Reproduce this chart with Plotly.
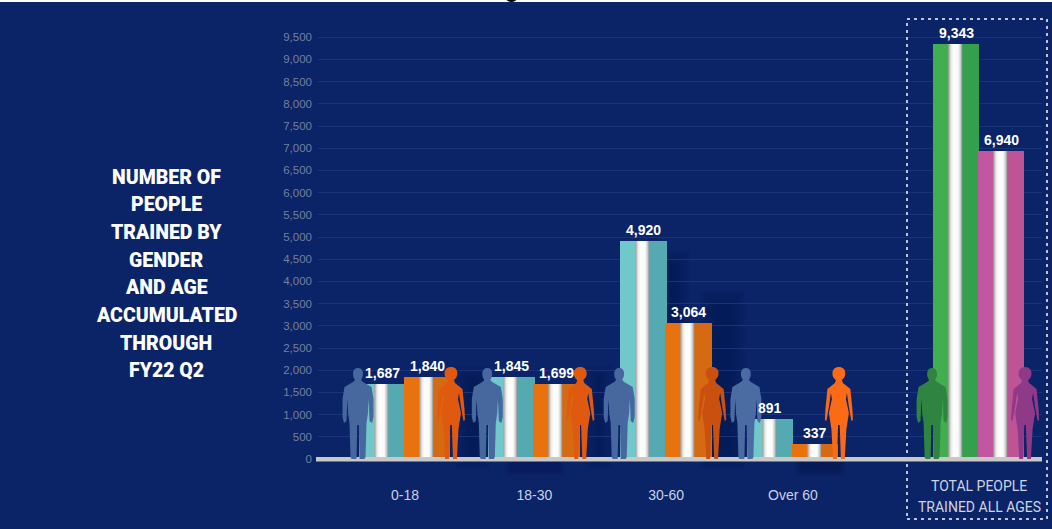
import plotly.graph_objects as go

# Training counts by age band
age_groups = ["0-18", "18-30", "30-60", "Over 60"]
men_trained = [1687, 1845, 4920, 891]
women_trained = [1840, 1699, 3064, 337]
total_men = [9343]
total_women = [6940]
total_label_lines = ["TOTAL PEOPLE", "TRAINED ALL AGES"]
y_ticks = list(range(0, 10000, 500))
side_title_lines = ["NUMBER OF", "PEOPLE", "TRAINED BY", "GENDER", "AND AGE", "ACCUMULATED", "THROUGH", "FY22 Q2"]

W, H = 1052, 529
LEFT, RIGHT, TOP, BOTTOM = 318, 1042, 26, 478
ZERO_PX, PX_PER_UNIT = 459, 0.0444
UNIT_PX = 129.3
CENTER_0_PX = 405
BAR_PX = 45

group_x = [0, 1, 2.02, 3]
total_x = [4.44]
BG = "#0b2367"


def px_x(p):
    return (p - CENTER_0_PX) / UNIT_PX


def pap_x(p):
    return (p - LEFT) / (RIGHT - LEFT)


def pap_y(p):
    return (BOTTOM - p) / (BOTTOM - TOP)


def mix(stops, f):
    for (a, ca), (b, cb) in zip(stops, stops[1:]):
        if f <= b:
            t = (f - a) / (b - a) if b > a else 0
            rgb = [round(ca[i] + (cb[i] - ca[i]) * t) for i in range(3)]
            return f"rgb({rgb[0]},{rgb[1]},{rgb[2]})"
    c = stops[-1][1]
    return f"rgb({c[0]},{c[1]},{c[2]})"


def metal(left, right):
    # body colour with a brushed silver band down the middle
    return [
        (0.0, left), (0.33, left), (0.35, (165, 165, 165)), (0.40, (235, 232, 230)),
        (0.46, (255, 255, 255)), (0.56, (250, 250, 250)), (0.62, (195, 195, 195)),
        (0.645, (140, 145, 145)), (0.66, right), (1.0, right),
    ]


def strip_trace(centers, values, stops):
    xs, ys, colors = [], [], []
    for c, v in zip(centers, values):
        for i in range(BAR_PX):
            xs.append(c + (i + 0.5 - BAR_PX / 2) / UNIT_PX)
            ys.append(v)
            colors.append(mix(stops, (i + 0.5) / BAR_PX))
    return go.Bar(
        x=xs, y=ys, width=1.8 / UNIT_PX,
        marker=dict(color=colors, line=dict(width=0)),
        hoverinfo="skip", showlegend=False,
    )


half = BAR_PX / 2 / UNIT_PX
men_x = [g - half for g in group_x]
women_x = [g + half for g in group_x]
total_men_x = [g - half for g in total_x]
total_women_x = [g + half for g in total_x]

fig = go.Figure()
fig.add_trace(strip_trace(men_x, men_trained, metal((112, 200, 202), (84, 170, 176))))
fig.add_trace(strip_trace(women_x, women_trained, metal((232, 114, 14), (214, 106, 18))))
fig.add_trace(strip_trace(total_men_x, total_men, metal((66, 174, 80), (52, 160, 78))))
fig.add_trace(strip_trace(total_women_x, total_women, metal((194, 86, 160), (190, 84, 150))))

shapes = []


def shadow(x0, x1, y0, y1, steps=8, alpha=0.025):
    # soft dark glow built from nested translucent boxes
    for s in range(steps):
        d = s * 2
        shapes.append(dict(
            type="rect", xref="paper", yref="paper", layer="below",
            x0=pap_x(x0 + d), x1=pap_x(x1 - d), y0=pap_y(y0 + d), y1=pap_y(y1 - d),
            fillcolor=f"rgba(4,12,48,{alpha})", line=dict(width=0),
        ))


shadow(700, 745, 290, 470)
shadow(655, 690, 250, 335)
shadow(455, 490, 365, 470)
shadow(585, 612, 365, 470)
shadow(795, 845, 456, 476, steps=4, alpha=0.09)
shadow(505, 565, 456, 476, steps=4, alpha=0.04)

# floor line the bars stand on
shapes.append(dict(
    type="rect", xref="paper", yref="paper",
    x0=pap_x(316), x1=pap_x(1042), y0=pap_y(457), y1=pap_y(461.5),
    fillcolor="#c8c8c8", line=dict(width=0),
))

MAN = (
    "M -1.5 0 L -6.5 0 L -7.5 2 L -8.5 36 L -10 46 L -10.5 60 L -11 52 L -11.5 38 L -14 36 L -15.5 42 "
    "L -15.5 60 L -13.5 72 L -5 77 L -3 79 C -6 83 -6 91 0 91 C 6 91 6 83 3 79 L 5 77 L 13.5 72 "
    "L 15.5 60 L 15.5 42 L 14 36 L 11.5 38 L 11 52 L 10.5 60 L 10 46 L 8.5 36 L 7.5 2 L 6.5 0 L 1.5 0 "
    "L 0.8 34 L -0.8 34 Z"
)
WOMAN = (
    "M -2 0 L -6 0 L -6 3 L -7.5 30 L -10 46 L -7 60 L -8 66 L -10 52 L -12.5 38 L -14 39 L -13.5 50 "
    "L -11.5 70 L -4 76 L -3 79 C -8 82 -8 92 0 92 C 8 92 8 82 3 79 L 4 76 L 11.5 70 L 13.5 50 L 14 39 "
    "L 12.5 38 L 10 52 L 8 66 L 7 60 L 10 46 L 7.5 30 L 6 3 L 6 0 L 2 0 L 0.8 34 L -0.8 34 Z"
)
men_colors = ["#47689f", "#47689f", "#47689f", "#4a6ca2"]
women_colors = ["#df5a10", "#df5a10", "#c9500f", "#fb6a14"]


def figure_shape(path, anchor, color):
    shapes.append(dict(
        type="path", path=path, xref="x", yref="y",
        xsizemode="pixel", ysizemode="pixel",
        xanchor=anchor, yanchor=0,
        fillcolor=color, line=dict(width=0),
    ))


for g, mc, wc in zip(group_x, men_colors, women_colors):
    figure_shape(MAN, g - 47 / UNIT_PX, mc)
    figure_shape(WOMAN, g + 46 / UNIT_PX, wc)
figure_shape(MAN, total_x[0] - 47 / UNIT_PX, "#2f8442")
figure_shape(WOMAN, total_x[0] + 46 / UNIT_PX, "#8e3a88")

# dotted frame around the totals
shapes.append(dict(
    type="rect", xref="paper", yref="paper",
    x0=pap_x(907), x1=pap_x(1047), y0=pap_y(519), y1=pap_y(19),
    fillcolor="rgba(0,0,0,0)", line=dict(color="#bcc4d6", width=2, dash="3px,4px"),
))
# sliver of page along the top edge
shapes.append(dict(
    type="rect", xref="paper", yref="paper",
    x0=pap_x(0), x1=pap_x(W), y0=pap_y(2), y1=pap_y(-2),
    fillcolor="white", line=dict(width=0),
))
shapes.append(dict(
    type="circle", xref="paper", yref="paper",
    x0=pap_x(506), x1=pap_x(517), y0=pap_y(2), y1=pap_y(-6),
    fillcolor="black", line=dict(width=0),
))

annotations = []


def value_label(x, value, lift):
    annotations.append(dict(
        x=x, y=value, xref="x", yref="y", text=f"{value:,}", showarrow=False,
        xanchor="center", yanchor="bottom", yshift=lift, borderpad=0,
        font=dict(family="Liberation Sans", size=14, color="white", weight="bold"),
    ))


for x, v in zip(men_x + women_x + total_men_x + total_women_x,
                men_trained + women_trained + total_men + total_women):
    value_label(x, v, 2)

for i, line in enumerate(side_title_lines):
    annotations.append(dict(
        x=pap_x(166), y=pap_y(177 + i * 27.7), xref="paper", yref="paper", text=line,
        showarrow=False, align="center", xanchor="center", yanchor="middle",
        font=dict(family="Roboto", size=19.5, color="white", weight=900),
    ))
for i, line in enumerate(total_label_lines):
    annotations.append(dict(
        x=total_x[0], y=pap_y(486 + i * 21), xref="x", yref="paper", text=line,
        showarrow=False, align="center", xanchor="center", yanchor="middle",
        font=dict(family="Roboto", size=14, color="#cdd4e4"),
    ))

fig.update_layout(
    width=W, height=H, autosize=False,
    margin=dict(l=LEFT, r=W - RIGHT, t=TOP, b=H - BOTTOM, pad=0),
    paper_bgcolor=BG, plot_bgcolor=BG,
    barmode="overlay", bargap=0, showlegend=False,
    shapes=shapes, annotations=annotations,
    xaxis=dict(
        range=[px_x(LEFT), px_x(RIGHT)], tickmode="array",
        tickvals=group_x, ticktext=age_groups, showgrid=False, zeroline=False,
        showline=False, ticks="", ticklabelstandoff=7,
        tickfont=dict(family="Liberation Sans", size=14, color="#c9d2e4"),
    ),
    yaxis=dict(
        range=[(ZERO_PX - BOTTOM) / PX_PER_UNIT, (ZERO_PX - TOP) / PX_PER_UNIT],
        tickmode="array", tickvals=y_ticks, ticktext=[f"{t:,}" for t in y_ticks],
        showgrid=True, gridcolor="#1b3378", gridwidth=1, zeroline=False, showline=False,
        ticks="", ticklabelstandoff=5,
        tickfont=dict(family="Liberation Sans", size=11.5, color="#74809f"),
    ),
)

fig.write_html("out.html", config=dict(displayModeBar=False))
